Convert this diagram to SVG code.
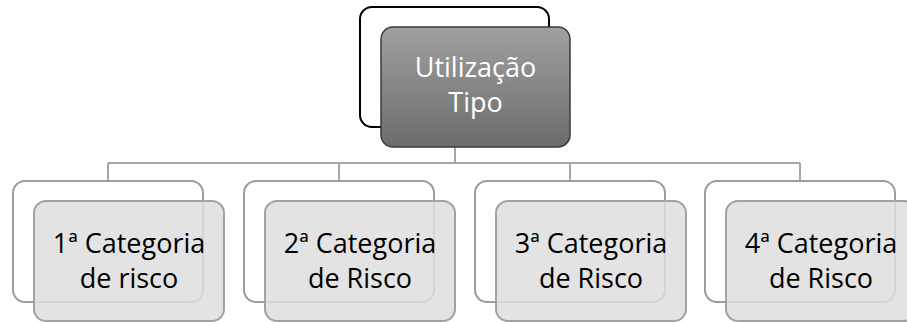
<svg xmlns="http://www.w3.org/2000/svg" width="907" height="322" viewBox="0 0 907 322">
<style>
.conn{fill:none;stroke:#a5a5a5;stroke-width:2}
.back{fill:#fff;stroke:#9c9c9c;stroke-width:2}
.front{fill:#dedede;fill-opacity:0.85;stroke:#a2a2a2;stroke-width:2}
.lbl{font-family:"Open Sans","Liberation Sans",sans-serif;font-size:27px;fill:#000;text-anchor:middle}
.tlbl{font-family:"Open Sans","Liberation Sans",sans-serif;font-size:27px;fill:#fff;text-anchor:middle}
</style>
<defs>
<linearGradient id="g" x1="0" y1="0" x2="0" y2="1">
<stop offset="0" stop-color="#a0a0a0"/>
<stop offset="1" stop-color="#6c6c6c"/>
</linearGradient>
</defs>
<g id="connectors">
<path class="conn" d="M455 147V163M108 163H800M108 163V181M339 163V181M570 163V181M800 163V181"/>
</g>
<g id="top">
<rect x="360" y="7" width="189" height="120" rx="12" fill="#fff" stroke="#000" stroke-width="2"/>
<rect x="381" y="27" width="189" height="120" rx="12" fill="url(#g)" stroke="#3a3a3a" stroke-width="1.5"/>
<text class="tlbl" x="475.5" y="77">Utilização</text>
<text class="tlbl" x="475.5" y="112">Tipo</text>
</g>
<g id="n1">
<rect class="back" x="13" y="181" width="190" height="121" rx="12"/>
<rect class="front" x="34" y="201" width="190" height="120" rx="12"/>
<text class="lbl" x="129" y="253">1ª Categoria</text>
<text class="lbl" x="129" y="288">de risco</text>
</g>
<g id="n2">
<rect class="back" x="244" y="181" width="190" height="121" rx="12"/>
<rect class="front" x="265" y="201" width="190" height="120" rx="12"/>
<text class="lbl" x="360" y="253">2ª Categoria</text>
<text class="lbl" x="360" y="288">de Risco</text>
</g>
<g id="n3">
<rect class="back" x="475" y="181" width="190" height="121" rx="12"/>
<rect class="front" x="496" y="201" width="190" height="120" rx="12"/>
<text class="lbl" x="591" y="253">3ª Categoria</text>
<text class="lbl" x="591" y="288">de Risco</text>
</g>
<g id="n4">
<rect class="back" x="705" y="181" width="190" height="121" rx="12"/>
<rect class="front" x="726" y="201" width="190" height="120" rx="12"/>
<text class="lbl" x="821" y="253">4ª Categoria</text>
<text class="lbl" x="821" y="288">de Risco</text>
</g>
</svg>
